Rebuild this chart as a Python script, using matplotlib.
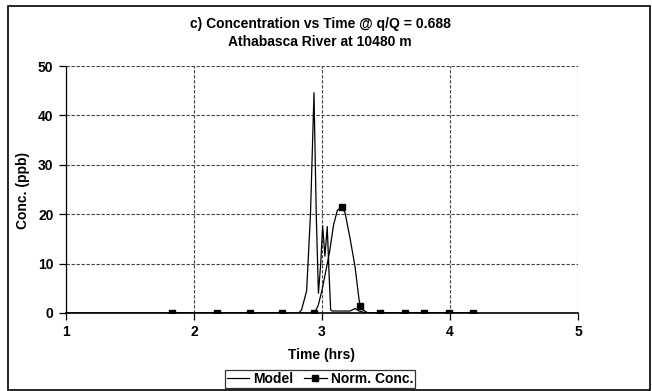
import matplotlib
matplotlib.use('Agg')
import matplotlib.pyplot as plt
from matplotlib.lines import Line2D
from matplotlib.patches import Rectangle

plt.rcParams['font.family'] = ['Liberation Sans', 'DejaVu Sans']
plt.rcParams['font.weight'] = 'bold'

# Model curve
model_t = [1.0, 2.60, 2.69, 2.75, 2.81, 2.84, 2.88, 2.91, 2.9375, 2.955, 2.972,
           2.99, 3.005, 3.023, 3.041, 3.055, 3.068, 3.08, 3.15, 3.22, 3.258,
           3.29, 3.33, 3.40, 4.20]
model_c = [0.0, 0.0, 0.0, -0.3, -0.2, 0.6, 4.5, 20.0, 44.6, 20.0, 4.0,
           10.0, 17.6, 11.5, 17.5, 8.0, 0.6, 0.4, 0.4, 0.4, 0.9,
           0.4, 0.1, 0.0, 0.0]

# Norm. Conc. samples (markers)
norm_t = [1.83, 2.18, 2.44, 2.69, 2.94, 3.155, 3.30, 3.45, 3.65, 3.80, 3.99, 4.18]
norm_c = [0.0, 0.0, 0.0, 0.0, 0.0, 21.4, 1.4, 0.0, 0.0, 0.0, 0.0, 0.0]

# Norm. Conc. smoothed line as drawn in the picture
norm_line_t = [1.83, 2.94, 2.97, 3.00, 3.03, 3.06, 3.09, 3.12, 3.155, 3.18,
               3.22, 3.258, 3.29, 3.30, 3.32, 3.36, 4.18]
norm_line_c = [0.0, 0.0, 1.5, 4.6, 8.5, 12.5, 17.8, 20.8, 21.4, 20.3,
               15.0, 9.4, 2.6, 1.4, 0.6, 0.0, 0.0]

title = 'c) Concentration vs Time @ q/Q = 0.688\nAthabasca River at 10480 m'
xticks = [1, 2, 3, 4, 5]
yticks = [0, 10, 20, 30, 40, 50]

W, H = 652, 391
fig = plt.figure(figsize=(W / 100, H / 100), dpi=100)
ax = fig.add_axes([66 / W, 1 - 313 / H, (578 - 66) / W, (313 - 66) / H])

ax.plot(model_t, model_c, color='black', lw=0.9, zorder=3)
ax.plot(norm_line_t, norm_line_c, color='black', lw=0.9, zorder=3)
ax.plot(norm_t, norm_c, ls='none', marker='s', ms=4, color='black', zorder=4)

ax.set_xlim(1, 5)
ax.set_ylim(0, 50)
ax.set_xticks(xticks)
ax.set_yticks(yticks)
ax.tick_params(direction='out', length=5, width=0.9, labelsize=10, pad=4)
ax.grid(True, color='#444444', ls=(0, (3, 1.5)), lw=0.8)
ax.set_axisbelow(True)
for s in ['top', 'right']:
    ax.spines[s].set_visible(False)
ax.spines['left'].set_linewidth(0.9)
ax.spines['bottom'].set_linewidth(1.2)

# titles and labels
fig.text(320 / W, 1 - 33 / H, title, ha='center', va='center', fontsize=10,
         fontweight='bold', linespacing=1.4)
fig.text(322 / W, 1 - 355 / H, 'Time (hrs)', ha='center', va='center',
         fontsize=10, fontweight='bold')
fig.text(23 / W, 1 - 190 / H, 'Conc. (ppb)', ha='center', va='center',
         rotation=90, fontsize=10, fontweight='bold')

handles = [Line2D([], [], color='black', lw=0.9),
           Line2D([], [], color='black', lw=0.9, marker='s', ms=4)]
leg = fig.legend(handles, ['Model', 'Norm. Conc.'], loc='center',
                 bbox_to_anchor=(320 / W, 1 - 379 / H), ncol=2, fontsize=10,
                 frameon=True, fancybox=False, handlelength=1.6,
                 handletextpad=0.3, columnspacing=0.8, borderpad=0.15,
                 borderaxespad=0)
leg.get_frame().set_edgecolor('black')
leg.get_frame().set_linewidth(0.9)

# chart border
fig.patches.append(Rectangle((8 / W, 1 / H), (650 - 8) / W, (385 - 1) / H,
                             transform=fig.transFigure, fill=False,
                             edgecolor='black', lw=1.2))

fig.savefig('out.png', dpi=100)
